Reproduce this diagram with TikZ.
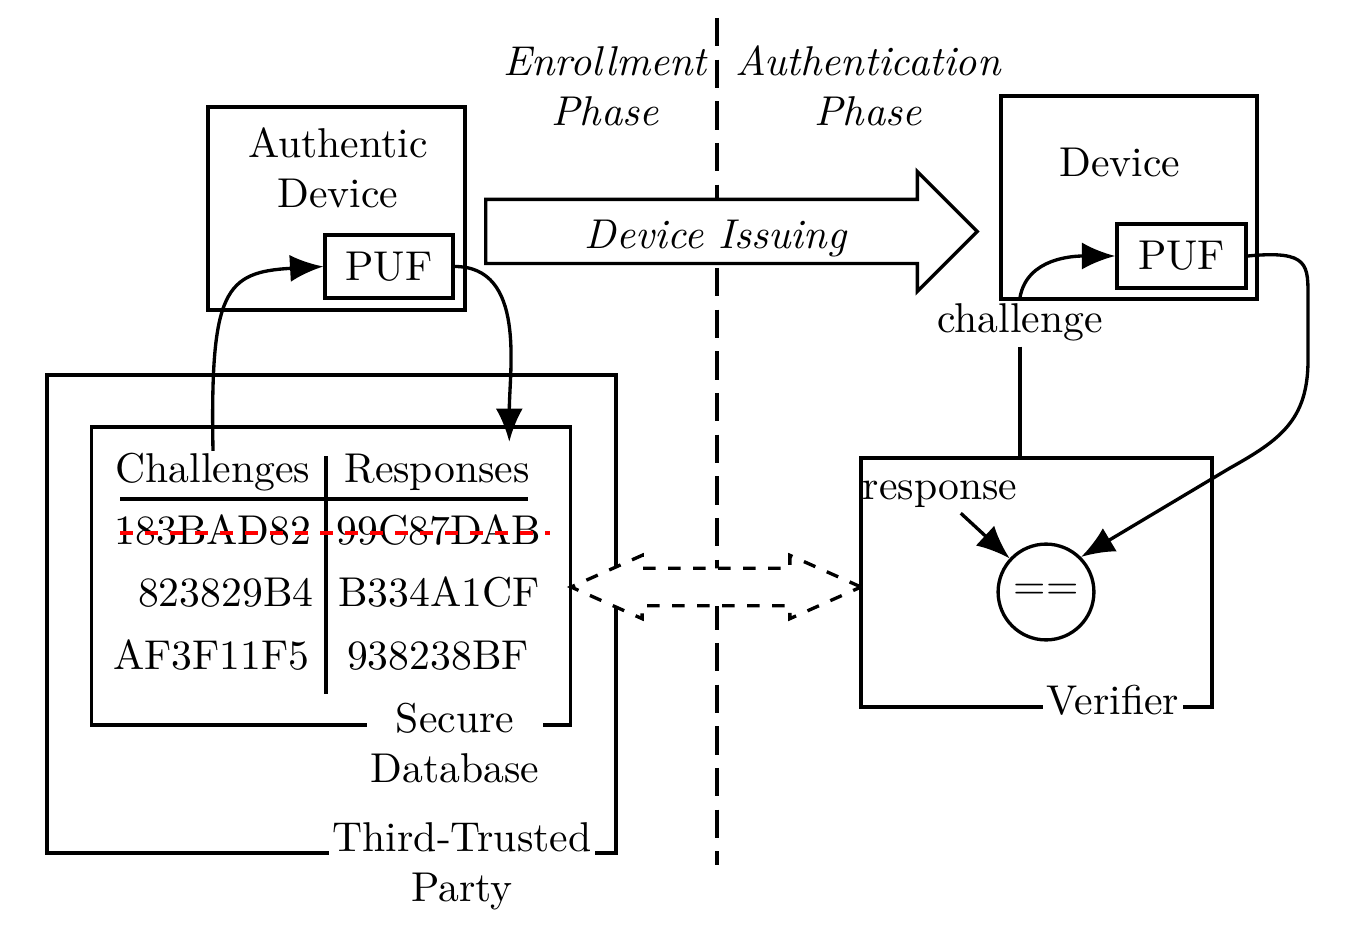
\documentclass[tikz,border=0pt]{standalone}
\usetikzlibrary{arrows.meta, shapes.arrows, calc}
\usetikzlibrary{positioning}

\begin{document}
\begin{tikzpicture}[thick, x=0.24pt, y=0.24pt,
    box/.style={draw, rectangle, inner sep=0pt},
    lbl/.style={fill=white, align=center, inner sep=1pt},
    conn/.style={-{Latex[length=8pt,width=6.5pt]}}]
    \useasboundingbox (0,0) rectangle (1366,-929);
    \coordinate (top) at (717,-18);
    \coordinate (bot) at (717,-865);
    \draw[dash pattern=on 6.8pt off 3.2pt] (top) -- (bot);
    \node[align=center, font=\itshape] (enroll) at (605,-86) {Enrollment\\Phase};
    \node[align=center, font=\itshape] (auth) at (868,-86) {Authentication\\Phase};

    \node[box, minimum width=61.7pt, minimum height=48.7pt] (authdev) at (336.5,-208.5) {};
    \node[align=center] (authtxt) at (338,-168) {Authentic\\Device};
    \node[box, minimum width=30.7pt, minimum height=15.1pt] (puf1) at (389,-266.5) {PUF};

    \node[box, minimum width=61.4pt, minimum height=48.7pt] (dev) at (1129,-197.5) {};
    \node (devtxt) at (1120,-163) {Device};
    \node[box, minimum width=31pt, minimum height=15.4pt] (puf2) at (1181.5,-256) {PUF};

    \node[single arrow, draw, fill=white, font=\itshape, minimum height=118pt, minimum width=28pt,
        single arrow head extend=6.7pt, text height=10pt, text depth=2pt, inner ysep=1.3pt,
        anchor=tail] (issue) at (484,-231.5) {Device Issuing};

    \node[box, minimum width=136.6pt, minimum height=114.7pt] (ttp) at (331.5,-614) {};
    \node[box, minimum width=115pt, minimum height=71.5pt] (db) at (331,-576) {};
    \node[box, minimum width=84.2pt, minimum height=59.8pt] (ver) at (1036.5,-582.5) {};

    \node[anchor=base east, inner sep=0pt] (hdrC) at (312,-482) {Challenges};
    \node[anchor=base, inner sep=0pt] (hdrR) at (437,-482) {Responses};
    \node[anchor=base east, inner sep=0pt] (c1) at (313,-544) {183BAD82};
    \node[anchor=base, inner sep=0pt] (r1) at (439,-544) {99C87DAB};
    \node[anchor=base east, inner sep=0pt] (c2) at (315,-606) {823829B4};
    \node[anchor=base, inner sep=0pt] (r2) at (439,-606) {B334A1CF};
    \node[anchor=base east, inner sep=0pt] (c3) at (311,-669) {AF3F11F5};
    \node[anchor=base, inner sep=0pt] (r3) at (438,-669) {938238BF};
    \draw (120,-499) -- (528,-499);
    \draw (326,-456) -- (326,-694);
    \draw[red, dashed] (120,-533) -- (550,-533);

    \node[lbl] (dblbl) at (455,-743) {Secure\\Database};
    \node[lbl] (ttplbl) at (462,-866) {Third-Trusted\\Party};
    \node[lbl, anchor=base] (verlbl) at (1113,-714) {Verifier};

    \node[double arrow, draw, dashed, fill=white, minimum height=69.6pt, minimum width=14.4pt,
        double arrow head extend=3.1pt, double arrow tip angle=48, inner xsep=0pt,
        inner ysep=4.1pt] (link) at (716,-587) {};

    \node[circle, draw, minimum size=23pt, inner sep=0pt] (eq) at (1046,-592) {==};
    \node[inner sep=1pt] (resp) at (940,-494) {response};
    \node[inner sep=1pt] (chal) at (1020,-322) {challenge};

    \draw[conn] (hdrC.north) .. controls (210,-290) and (225,-272) .. (puf1.west);
    \draw[conn] (puf1.east) to[out=0, in=90] ($(hdrR.north east)+(-22,10)$);
    \draw (chal.south) -- (chal.south |- ver.north);
    \draw[conn] (chal.north) to[out=80, in=180] (puf2.west);
    \draw[conn] (puf2.east) .. controls (1310,-250) and (1308,-265) .. (1308,-300) -- (1308,-360)
        .. controls (1308,-420) and (1280,-440) .. (1230,-468) -- (eq.north east);
    \draw[conn] (resp) -- (eq);
\end{tikzpicture}
\end{document}
